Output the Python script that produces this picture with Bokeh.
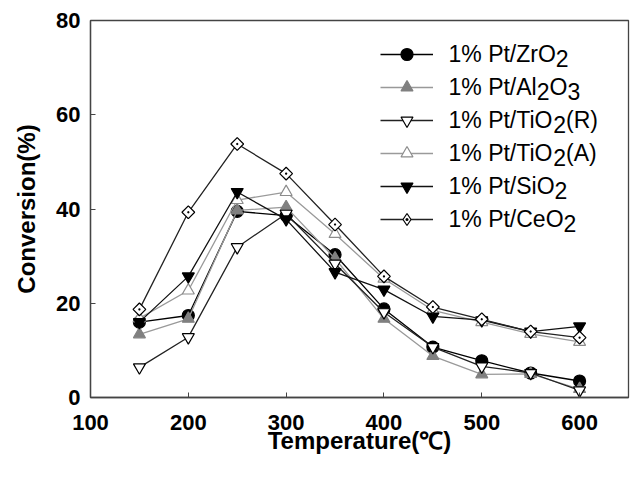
import math
from bokeh.plotting import figure
from bokeh.models import Legend, LegendItem, Label, FixedTicker, Range1d
from bokeh.embed import file_html
from bokeh.resources import INLINE

# ---- data ----
temperature = [150, 200, 250, 300, 350, 400, 450, 500, 550, 600]
pt_zro2 = [16.0, 17.4, 39.5, 38.6, 30.3, 18.8, 10.7, 7.8, 5.2, 3.5]
pt_al2o3 = [13.4, 16.7, 39.7, 40.4, 29.5, 16.7, 8.8, 4.9, 5.0, 1.8]
pt_tio2_r = [6.4, 12.8, 31.9, 39.0, 28.4, 18.1, 10.7, 6.6, 5.2, 1.5]
pt_tio2_a = [16.8, 22.7, 41.9, 43.6, 34.7, 25.2, 18.5, 16.0, 13.5, 11.8]
pt_sio2 = [16.0, 25.7, 43.6, 37.8, 26.6, 22.9, 17.2, 16.4, 14.0, 15.1]
pt_ceo2 = [18.7, 39.3, 53.8, 47.5, 36.7, 25.7, 19.2, 16.6, 14.0, 12.7]

x_ticks = [100, 200, 300, 400, 500, 600]
y_ticks = [0, 20, 40, 60, 80]

# legend label pieces: (text, is_subscript)
label_zro2 = [("1% Pt/ZrO", False), ("2", True)]
label_al2o3 = [("1% Pt/Al", False), ("2", True), ("O", False), ("3", True)]
label_tio2_r = [("1% Pt/TiO", False), ("2", True), ("(R)", False)]
label_tio2_a = [("1% Pt/TiO", False), ("2", True), ("(A)", False)]
label_sio2 = [("1% Pt/SiO", False), ("2", True)]
label_ceo2 = [("1% Pt/CeO", False), ("2", True)]

FONT = "Liberation Sans"

p = figure(width=633, height=477, output_backend="svg", toolbar_location=None,
           x_range=Range1d(100, 650), y_range=Range1d(0, 80),
           min_border_left=90, min_border_right=5, min_border_top=20, min_border_bottom=80)
p.grid.visible = False
p.outline_line_color = "#444444"
p.outline_line_width = 1.3
p.background_fill_color = "white"
p.border_fill_color = "white"

for ax in (p.xaxis[0], p.yaxis[0]):
    ax.axis_line_color = "#444444"
    ax.axis_line_width = 1.3
    ax.major_tick_line_color = "#444444"
    ax.major_tick_in = 5
    ax.major_tick_out = 0
    ax.minor_tick_line_color = None
    ax.major_label_text_font = FONT
    ax.major_label_text_font_style = "bold"
    ax.major_label_text_font_size = "22px"
    ax.major_label_text_color = "black"
    ax.axis_label_text_font = FONT
    ax.axis_label_text_font_style = "bold"
    ax.axis_label_text_font_size = "24px"
    ax.axis_label_text_color = "black"

p.xaxis.ticker = FixedTicker(ticks=x_ticks)
p.yaxis.ticker = FixedTicker(ticks=y_ticks)
p.xaxis.axis_label = "Temperature(\u2103)"
p.yaxis.axis_label = "Conversion(%)"
p.xaxis.major_label_standoff = 17
p.xaxis.axis_label_standoff = -6
p.yaxis.major_label_standoff = 10
p.yaxis.axis_label_standoff = 13

series = [
    (pt_zro2, "black", "circle", "black", "black", 12, 0.0),
    (pt_al2o3, "#999999", "triangle", "#808080", "#808080", 12, 0.0),
    (pt_tio2_r, "#222222", "inverted_triangle", "black", "white", 12, 0.0),
    (pt_tio2_a, "#9a9a9a", "triangle", "#8c8c8c", "white", 12, 0.0),
    (pt_sio2, "#111111", "inverted_triangle", "black", "black", 12, 0.0),
    (pt_ceo2, "#222222", "square_dot", "black", "white", 9, math.pi / 4),
]

items = []
for vals, lc, marker, mlc, mfc, size, ang in series:
    lr = p.line(temperature, vals, line_color=lc, line_width=1.3)
    leg_r = None
    if marker == "square_dot":
        # legend sample for the rotated square (legend ignores angle): a diamond
        # drawn at the same points, fully hidden under the rotated squares
        leg_r = p.scatter(temperature, vals, marker="diamond_dot", size=12,
                          line_color=mlc, fill_color=mfc, line_width=1.2)
    sr = p.scatter(temperature, vals, marker=marker, size=size, angle=ang,
                   line_color=mlc, fill_color=mfc, line_width=1.2)
    items.append(LegendItem(label="", renderers=[lr, leg_r if leg_r is not None else sr]))

legend = Legend(items=items, location=(290, 163), glyph_width=53, glyph_height=30,
                spacing=3, padding=0, margin=0, label_standoff=0,
                label_text_font_size="1px", label_height=20, label_width=0,
                border_line_color=None, background_fill_alpha=0)
p.add_layout(legend)

# Arial / Liberation Sans advance widths (per 1000 em)
W = {'1': 556, '%': 889, ' ': 278, 'P': 667, 't': 278, '/': 278, 'Z': 611, 'r': 333,
     'O': 778, 'A': 667, 'l': 222, 'T': 611, 'i': 222, 'S': 667, 'C': 722, 'e': 556,
     '2': 556, '3': 556, '(': 333, ')': 333, 'R': 722}

fs = 23
base_x = 358  # from frame left
base_y0 = 397 - 61.7 + 8  # baseline of first row, from frame bottom
for row, pieces in enumerate([label_zro2, label_al2o3, label_tio2_r,
                              label_tio2_a, label_sio2, label_ceo2]):
    x = base_x
    yb = base_y0 - 33 * row
    for txt, sub in pieces:
        p.add_layout(Label(x=x, y=yb - (4.5 if sub else 0), x_units="screen", y_units="screen",
                           text=txt, text_font=FONT, text_font_size=f"{fs}px",
                           text_baseline="alphabetic", text_align="left", text_color="black"))
        x += sum(W.get(c, 556) for c in txt) / 1000 * fs

open("out.html", "w").write(file_html(p, INLINE))
